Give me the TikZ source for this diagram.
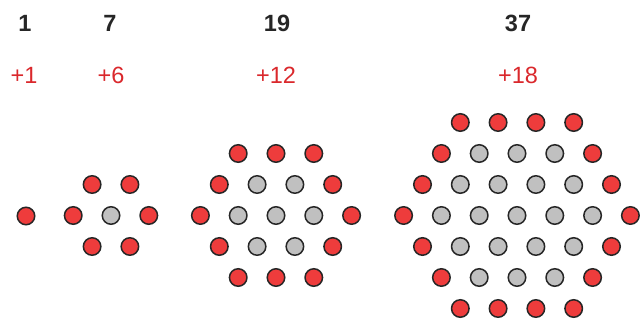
\documentclass[tikz,border=0pt]{standalone}
\usepackage{fontspec}
\setmainfont{Liberation Sans}
\usetikzlibrary{positioning}
\definecolor{dotred}{RGB}{238,60,60}
\definecolor{dotgray}{RGB}{192,192,192}
\definecolor{numred}{RGB}{218,40,44}
\definecolor{numdark}{RGB}{38,38,38}
\begin{document}
\begin{tikzpicture}[x=1pt,y=-1pt]
\tikzstyle{rd}=[circle,draw=black!85,line width=1.5pt,fill=dotred,minimum size=17.5pt,inner sep=0pt]
\tikzstyle{gr}=[rd,fill=dotgray]
\tikzstyle{tot}=[font=\fontsize{23.5}{28}\selectfont\bfseries,text=numdark]
\tikzstyle{inc}=[font=\fontsize{23.5}{28}\selectfont,text=numred]
\useasboundingbox (0,0) rectangle (642,321);
% totals and increments
\node[tot] (t1) at (25,23) {1}; \node[inc] (p1) at (24,75) {+1};
\node[tot] (t7) at (110,23) {7}; \node[inc] (p6) at (111,75) {+6};
\node[tot] (t19) at (277,23) {19}; \node[inc] (p12) at (276,75) {+12};
\node[tot] (t37) at (518,23) {37}; \node[inc] (p18) at (518,75) {+18};
% single dot
\node[rd] (a-0-0) at (26,216) {};
% hexagons: rings, centre x, name
\foreach \k/\cx/\nm in {1/111/b,2/276/c,3/517/d}{
  \foreach \r in {-\k,...,\k}{
    \pgfmathtruncatemacro\m{2*\k-abs(\r)}
    \foreach \j in {0,...,\m}{
      \pgfmathtruncatemacro\outer{or(abs(\r)==\k,or(\j==0,\j==\m))}
      \ifnum\outer=1 \def\st{rd}\else\def\st{gr}\fi
      \node[\st] (\nm-\r-\j) at ({\cx+(\j-\m/2)*37.8},{215.5+\r*31}) {};
    }
  }
}
\end{tikzpicture}
\end{document}
